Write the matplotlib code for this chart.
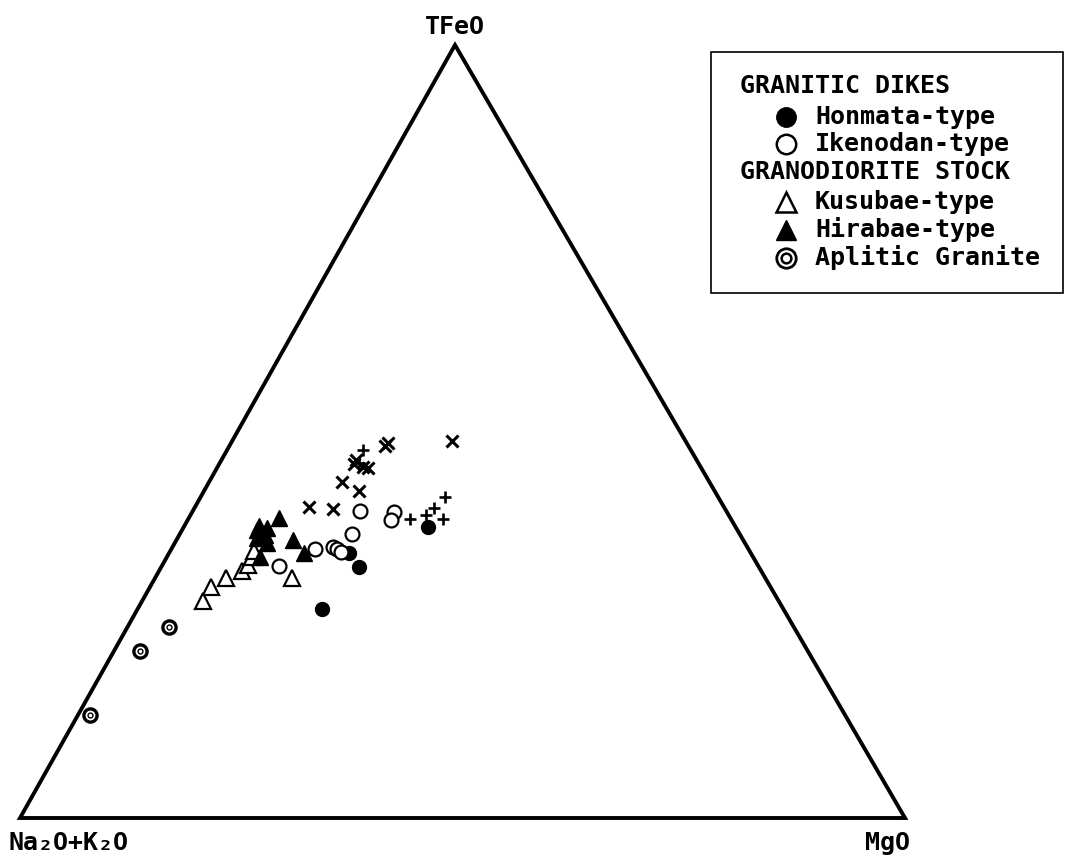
import matplotlib
matplotlib.use("Agg")
import matplotlib.pyplot as plt
from matplotlib.patches import Rectangle, Polygon

FONT = ['DejaVu Sans Mono', 'DejaVu Sans']

# ternary data: MgO %, TFeO % (rest = Na2O+K2O)
honmata_mgo = [20.8, 22.3, 20.3, 27.6]
honmata_feo = [27.0, 32.5, 34.3, 37.7]

ikenodan_mgo = [18.9, 19.5, 16.2, 18.1, 18.7, 19.4, 13.2, 22.8, 23.0]
ikenodan_feo = [39.7, 36.7, 34.8, 35.1, 34.8, 34.4, 32.6, 39.6, 38.6]

kusubae_mgo = [6.9, 6.9, 8.0, 9.3, 9.7, 9.6, 9.5, 15.5]
kusubae_feo = [28.1, 29.9, 31.1, 32.0, 32.7, 33.8, 34.5, 31.1]

hirabae_mgo = [8.4, 8.5, 9.5, 9.7, 10.4, 10.2, 13.2, 15.2, 10.5, 9.0]
hirabae_feo = [37.8, 37.3, 37.5, 36.6, 35.6, 38.8, 36.0, 34.3, 33.8, 36.2]

aplite_mgo = [4.7, 2.9, 1.4]
aplite_feo = [24.7, 21.6, 13.3]

cross_mgo = [17.6, 17.7, 24.8, 15.2, 15.2, 16.4, 17.1, 15.0, 17.5, 12.9, 15.7]
cross_feo = [48.1, 48.5, 48.8, 46.3, 45.8, 45.4, 45.3, 43.5, 42.3, 40.2, 40.0]

plus_mgo = [15.4, 15.7, 27.6, 27.1, 26.6, 25.1, 28.8]
plus_feo = [47.6, 45.9, 41.5, 40.1, 39.2, 38.7, 38.7]

legend_labels = ['Honmata-type', 'Ikenodan-type', 'Kusubae-type',
                 'Hirabae-type', 'Aplitic Granite']

# triangle vertices in figure pixels (alkali, MgO, TFeO)
A = (20, 818)
B = (905, 818)
C = (455, 45)


def tern(mgo, feo):
    xs, ys = [], []
    for m, t in zip(mgo, feo):
        m, t = m / 100.0, t / 100.0
        xs.append(A[0] + m * (B[0] - A[0]) + t * (C[0] - A[0]))
        ys.append(A[1] + m * (B[1] - A[1]) + t * (C[1] - A[1]))
    return xs, ys


fig = plt.figure(figsize=(10.66, 8.6), dpi=100)
ax = fig.add_axes([0, 0, 1, 1])
ax.set_xlim(0, 1066)
ax.set_ylim(860, 0)
ax.axis('off')

ax.add_patch(Polygon([A, B, C], closed=True, fill=False, lw=2.8,
                     edgecolor='black', joinstyle='miter'))

ms = 10
x, y = tern(honmata_mgo, honmata_feo)
ax.plot(x, y, 'o', ms=ms, mfc='black', mec='black', ls='none')
x, y = tern(ikenodan_mgo, ikenodan_feo)
ax.plot(x, y, 'o', ms=ms, mfc='white', mec='black', mew=1.6, ls='none')
x, y = tern(kusubae_mgo, kusubae_feo)
ax.plot(x, y, '^', ms=ms + 1, mfc='white', mec='black', mew=1.6, ls='none')
x, y = tern(hirabae_mgo, hirabae_feo)
ax.plot(x, y, '^', ms=ms + 1, mfc='black', mec='black', ls='none')
x, y = tern(aplite_mgo, aplite_feo)
ax.plot(x, y, 'o', ms=9.5, mfc='white', mec='black', mew=2.4, ls='none')
ax.plot(x, y, 'o', ms=3.5, mfc='white', mec='black', mew=1.0, ls='none')
x, y = tern(cross_mgo, cross_feo)
ax.plot(x, y, 'x', ms=9, mec='black', mew=2.2, ls='none')
x, y = tern(plus_mgo, plus_feo)
ax.plot(x, y, '+', ms=9, mec='black', mew=1.9, ls='none')

# apex labels
tk = dict(family=FONT, fontweight='bold', fontsize=18, color='black')
ax.text(455, 27, 'TFeO', ha='center', va='center', **tk)
ax.text(9, 843, 'Na₂O+K₂O', ha='left', va='center', **tk)
ax.text(888, 843, 'MgO', ha='center', va='center', **tk)

# legend box
ax.add_patch(Rectangle((711, 52), 352, 241, fill=False, lw=1.2,
                       edgecolor='black'))
lk = dict(family=FONT, fontweight='bold', fontsize=18, color='black',
          va='center', ha='left')
ax.text(740, 86, 'GRANITIC DIKES', **lk)
ax.text(740, 172, 'GRANODIORITE STOCK', **lk)
rows = [117, 144, 202, 230, 258]
mx = 786
ax.plot(mx, rows[0], 'o', ms=14, mfc='black', mec='black')
ax.plot(mx, rows[1], 'o', ms=14, mfc='white', mec='black', mew=1.8)
ax.plot(mx, rows[2], '^', ms=15, mfc='white', mec='black', mew=1.8)
ax.plot(mx, rows[3], '^', ms=15, mfc='black', mec='black')
ax.plot(mx, rows[4], 'o', ms=14, mfc='white', mec='black', mew=2.0)
ax.plot(mx, rows[4], 'o', ms=7, mfc='white', mec='black', mew=1.8)
for r, lab in zip(rows, legend_labels):
    ax.text(815, r, lab, **lk)

fig.savefig('out.png', dpi=100, facecolor='white')
